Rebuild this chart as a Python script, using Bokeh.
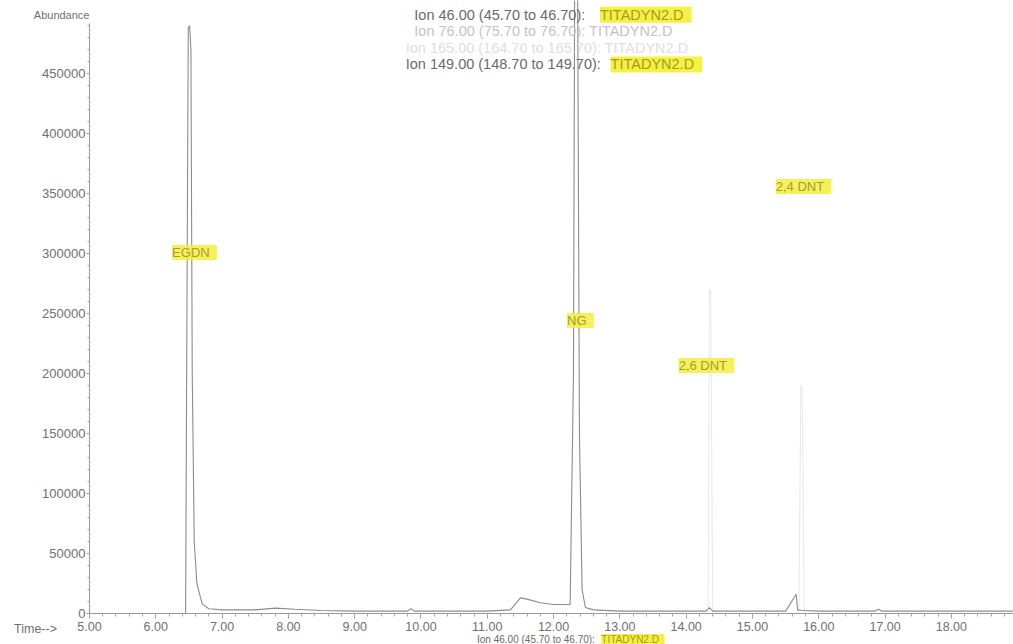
from bokeh.plotting import figure
from bokeh.models import Label, PrintfTickFormatter, NumeralTickFormatter, Range1d, FixedTicker
from bokeh.embed import file_html
from bokeh.resources import INLINE

# Chromatogram trace, ion 46 + 149
time_min = [5.00, 6.45, 6.47, 6.49, 6.51, 6.53, 6.55, 6.58, 6.62, 6.70, 6.80, 7.00, 7.50, 7.80, 8.10,
            8.50, 9.00, 9.80, 9.85, 9.90, 11.00, 11.35, 11.50, 11.60, 11.80, 12.00, 12.25,
            12.30, 12.32, 12.36, 12.39, 12.43, 12.48, 12.60, 13.00, 14.30, 14.35, 14.40,
            15.50, 15.66, 15.68, 15.75, 16.00, 16.85, 16.90, 16.95, 18.94]
abundance = [0, 0, 250000, 488000, 490000, 470000, 200000, 60000, 25000, 8000, 4000, 3000, 3000, 4500, 3500,
             2500, 2000, 2000, 4000, 2000, 2000, 3000, 13000, 12000, 9000, 7500, 7500,
             200000, 560000, 560000, 150000, 20000, 5000, 3000, 2000, 2000, 5000, 2000,
             2000, 16000, 3000, 2500, 2000, 2000, 3500, 2000, 2000]

# faint trace (ion 165)
faint_time = [13.00, 14.33, 14.35, 14.37, 14.40, 15.70, 15.73, 15.75, 15.78, 16.50]
faint_abundance = [0, 0, 270000, 270000, 0, 0, 190000, 190000, 0, 0]

peak_names = ["EGDN", "NG", "2,6 DNT", "2,4 DNT"]
peak_label_x = [6.584, 12.405, 14.306, 15.77]
peak_label_y = [300800, 244200, 206700, 355800]

ion_text = ["Ion  46.00 (45.70 to 46.70): ",
            "Ion  76.00 (75.70 to 76.70): TITADYN2.D",
            "Ion 165.00 (164.70 to 165.70): TITADYN2.D",
            "Ion 149.00 (148.70 to 149.70): "]
ion_file = " TITADYN2.D "

x_ticks = [5, 6, 7, 8, 9, 10, 11, 12, 13, 14, 15, 16, 17, 18]
y_ticks = [0, 50000, 100000, 150000, 200000, 250000, 300000, 350000, 400000, 450000]

FONT = "Liberation Sans"
GREY = "#8c8c8c"
TXT = "#707070"
YELLOW = "#f3ef3a"

p = figure(width=1013, height=644, output_backend="svg", toolbar_location=None,
           x_range=Range1d(3.658, 18.937), y_range=Range1d(-25833, 510833),
           min_border_left=0, min_border_right=0, min_border_top=0, min_border_bottom=0)
p.outline_line_color = None
p.xgrid.grid_line_color = None
p.ygrid.grid_line_color = None
p.background_fill_color = "white"

p.line(faint_time, faint_abundance, line_color="#e8e8e8", line_width=1.0)
p.line(time_min, abundance, line_color=GREY, line_width=1.1)

for ax in (p.xaxis[0], p.yaxis[0]):
    ax.axis_line_color = "#9a9a9a"
    ax.major_tick_line_color = "#9a9a9a"
    ax.minor_tick_line_color = "#a8a8a8"
    ax.major_label_text_color = TXT
    ax.major_label_text_font = FONT
    ax.major_label_text_font_size = "13px"
    ax.major_tick_in = 0
    ax.minor_tick_in = 0

p.xaxis.fixed_location = 0
p.yaxis.fixed_location = 5.0
p.xaxis.bounds = (5.0, 18.94)
p.yaxis.bounds = (0, 492000)
p.xaxis.major_tick_out = 5
p.xaxis.minor_tick_out = 3
p.yaxis.major_tick_out = 3
p.yaxis.minor_tick_out = 2
p.xaxis.ticker = FixedTicker(ticks=x_ticks, minor_ticks=[5 + i * 0.2 for i in range(70)])
p.xaxis.formatter = PrintfTickFormatter(format="%.2f")
p.xaxis.major_label_text_font_size = "12.5px"
p.xaxis.major_label_standoff = 3
p.yaxis.ticker = FixedTicker(ticks=y_ticks, minor_ticks=[i * 10000 for i in range(50)])
p.yaxis.formatter = NumeralTickFormatter(format="0")
p.yaxis.major_label_standoff = 1

# axis captions
p.add_layout(Label(x=5.0, y=499000, text="Abundance", text_align="right", text_baseline="middle",
                   text_font=FONT, text_font_size="11px", text_color=TXT))
p.add_layout(Label(x=4.186, y=-12500, text="Time-->", text_align="center", text_baseline="middle",
                   text_font=FONT, text_font_size="12.5px", text_color=TXT))

# ion legend at top
ion_y = [499000, 485000, 471500, 457500]
ion_x = [9.90, 9.90, 9.77, 9.77]
ion_col = ["#6a6a6a", "#c4c4c4", "#e0e0e0", "#6a6a6a"]
for i, t in enumerate(ion_text):
    p.add_layout(Label(x=ion_x[i], y=ion_y[i], text=t, text_align="left", text_baseline="middle",
                       text_font=FONT, text_font_size="14.5px", text_color=ion_col[i]))
for i, xx in ((0, 12.70), (3, 12.86)):
    p.add_layout(Label(x=xx, y=ion_y[i], text=ion_file, text_align="left", text_baseline="middle",
                       text_font=FONT, text_font_size="14.5px", text_color="#a89a20",
                       background_fill_color=YELLOW, background_fill_alpha=0.95))

# partly visible line at the bottom
p.add_layout(Label(x=12.707, y=-21700, text=ion_text[0], text_align="right", text_baseline="middle",
                   text_font=FONT, text_font_size="10px", text_color="#6a6a6a"))
p.add_layout(Label(x=12.72, y=-21700, text=ion_file, text_align="left", text_baseline="middle",
                   text_font=FONT, text_font_size="10px", text_color="#a89a20",
                   background_fill_color=YELLOW, background_fill_alpha=0.95))

# peak labels
for n, xx, yy in zip(peak_names, peak_label_x, peak_label_y):
    p.add_layout(Label(x=xx, y=yy, text=" " + n + " ", text_align="center", text_baseline="middle",
                       text_font=FONT, text_font_size="13px", text_color="#a89a40",
                       background_fill_color=YELLOW, background_fill_alpha=0.85))

open("out.html", "w").write(file_html(p, INLINE))
